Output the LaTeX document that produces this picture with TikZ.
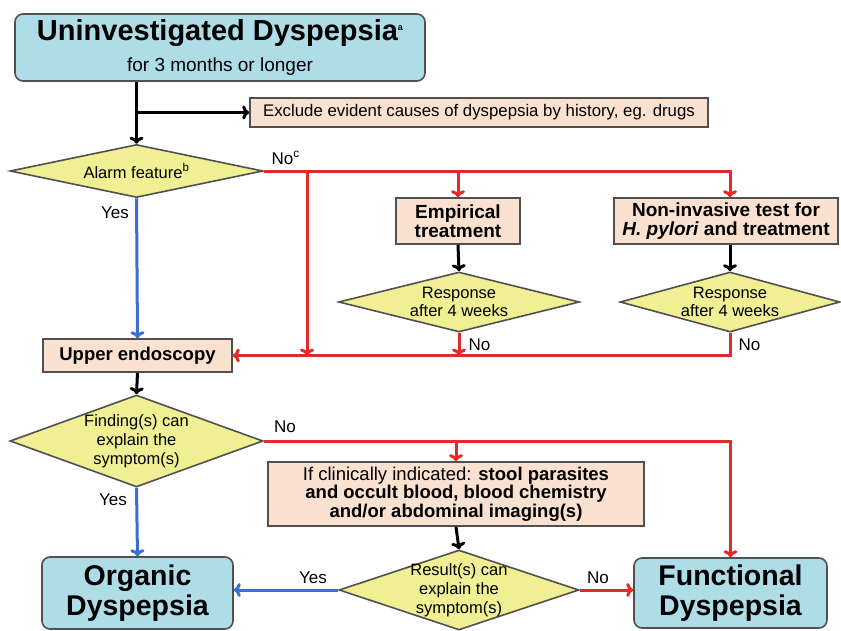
\documentclass[tikz,border=0pt]{standalone}
\usepackage{fontspec}
\setmainfont{Liberation Sans}
\usepackage{xcolor}
\usetikzlibrary{shapes.geometric, arrows.meta}
\definecolor{boxblue}{RGB}{174,221,232}
\definecolor{peach}{RGB}{250,225,208}
\definecolor{diayel}{RGB}{240,239,148}
\definecolor{lnred}{RGB}{229,40,40}
\definecolor{lnblue}{RGB}{58,110,208}
\definecolor{edge}{RGB}{80,80,80}

\begin{document}
\begin{tikzpicture}[x=1pt, y=-1pt, >={To[length=7pt, width=14pt]},
    endbox/.style={draw=edge, line width=1.6pt, fill=boxblue, rounded corners=8pt, align=center, inner sep=0pt},
    stepbox/.style={draw=edge, line width=1.6pt, fill=peach, align=center, inner sep=0pt},
    query/.style={diamond, draw=edge, line width=1.6pt, fill=diayel, inner sep=0pt},
    qtext/.style={align=center, font=\fontsize{16.5}{19}\selectfont},
    lbl/.style={font=\fontsize{17}{19}\selectfont},
    flow/.style={->, line width=3pt},
    redflow/.style={flow, lnred},
    blueflow/.style={flow, lnblue}]
    \useasboundingbox (0,0) rectangle (841,630);
    % Start
    \node[endbox, minimum width=410pt, minimum height=67pt] (start) at (220,47.5)
        {{\fontsize{29}{31}\selectfont\bfseries Uninvestigated Dyspepsia\raisebox{0.6ex}{\fontsize{9}{9}\selectfont a}}\\[11pt]
         {\fontsize{19}{22}\selectfont for 3 months or longer}};
    \node[stepbox, minimum width=458pt, minimum height=29pt, font=\fontsize{16.8}{19}\selectfont] (excl) at (479,112.5)
        {Exclude evident causes of dyspepsia by history, eg. drugs};
    \node[query, minimum width=253pt, minimum height=53pt] (alarm) at (136.5,171) {};
    \node[qtext] (alarmtxt) at (alarm) {Alarm feature\textsuperscript{b}};
    % Upper branch
    \node[stepbox, minimum width=124pt, minimum height=46pt, font=\fontsize{19}{19}\selectfont\bfseries] (emp) at (458,221)
        {Empirical\\treatment};
    \node[stepbox, minimum width=224pt, minimum height=46pt, font=\fontsize{19}{19}\selectfont\bfseries] (nint) at (726,221)
        {Non-invasive test for\\\textit{H. pylori} and treatment};
    \node[query, minimum width=241pt, minimum height=60pt] (resp1) at (459,302) {};
    \node[qtext, font=\fontsize{16.5}{18}\selectfont] (resp1txt) at (resp1) {Response\\after 4 weeks};
    \node[query, minimum width=220pt, minimum height=60pt] (resp2) at (730,302) {};
    \node[qtext, font=\fontsize{16.5}{18}\selectfont] (resp2txt) at (resp2) {Response\\after 4 weeks};
    \node[stepbox, minimum width=189pt, minimum height=33pt, font=\fontsize{18.5}{20}\selectfont\bfseries] (upper) at (137.5,355.5)
        {Upper endoscopy};
    % Lower branch
    \node[query, minimum width=253pt, minimum height=92pt] (find) at (136.5,441) {};
    \node[qtext] (findtxt) at (find) {Finding(s) can\\explain the\\symptom(s)};
    \node[stepbox, minimum width=376pt, minimum height=64pt, font=\fontsize{18.5}{18.5}\selectfont] (clin) at (456,494)
        {If clinically indicated: \textbf{stool parasites}\\\textbf{and occult blood, blood chemistry}\\\textbf{and/or abdominal imaging(s)}};
    \node[query, minimum width=240pt, minimum height=80pt] (result) at (459,590) {};
    \node[qtext] (resulttxt) at (result) {Result(s) can\\explain the\\symptom(s)};
    \node[endbox, minimum width=191pt, minimum height=72pt, font=\fontsize{28.5}{30}\selectfont\bfseries] (organic) at (137.5,593)
        {Organic\\Dyspepsia};
    \node[endbox, minimum width=193pt, minimum height=70pt, font=\fontsize{28.5}{30}\selectfont\bfseries] (func) at (730.5,593)
        {Functional\\Dyspepsia};
    % Connectors
    \draw[flow] (start.south -| alarm.north) -- (alarm.north);
    \draw[flow] (alarm.north |- excl.west) -- (excl.west);
    \draw[redflow] (alarm.east) -| (resp2.north |- nint.north);
    \draw[redflow] (emp.north |- alarm.east) -- (emp.north);
    \coordinate (drop) at (307,171);
    \draw[redflow] (drop) -- (drop |- upper.east);
    \draw[flow] (emp.south) -- (resp1.north);
    \draw[flow] (resp2.north |- nint.south) -- (resp2.north);
    \draw[redflow] (resp1.south) -- (resp1.south |- upper.east);
    \draw[redflow] (resp2.south) |- (upper.east);
    \draw[blueflow] (alarm.south) -- (upper.north);
    \draw[flow] (upper.south) -- (find.north);
    \draw[redflow] (find.east) -| (func.north);
    \draw[redflow] (clin.north |- find.east) -- (clin.north);
    \draw[flow] (clin.south) -- (result.north);
    \draw[blueflow] (find.south) -- (organic.north);
    \draw[blueflow] (result.west) -- (organic.east |- result.west);
    \draw[redflow] (result.east) -- (func.west |- result.east);
    % Labels
    \node[lbl, anchor=west] (noc) at (268,158) {No\textsuperscript{c}};
    \node[lbl] (yes1) at (115,213) {Yes};
    \node[lbl, anchor=west] (no1) at (465,345) {No};
    \node[lbl, anchor=west] (no2) at (735,345) {No};
    \node[lbl] (no3) at (285,427) {No};
    \node[lbl] (yes2) at (113,500) {Yes};
    \node[lbl] (yes3) at (313,578) {Yes};
    \node[lbl] (no4) at (598,578) {No};
\end{tikzpicture}
\end{document}
